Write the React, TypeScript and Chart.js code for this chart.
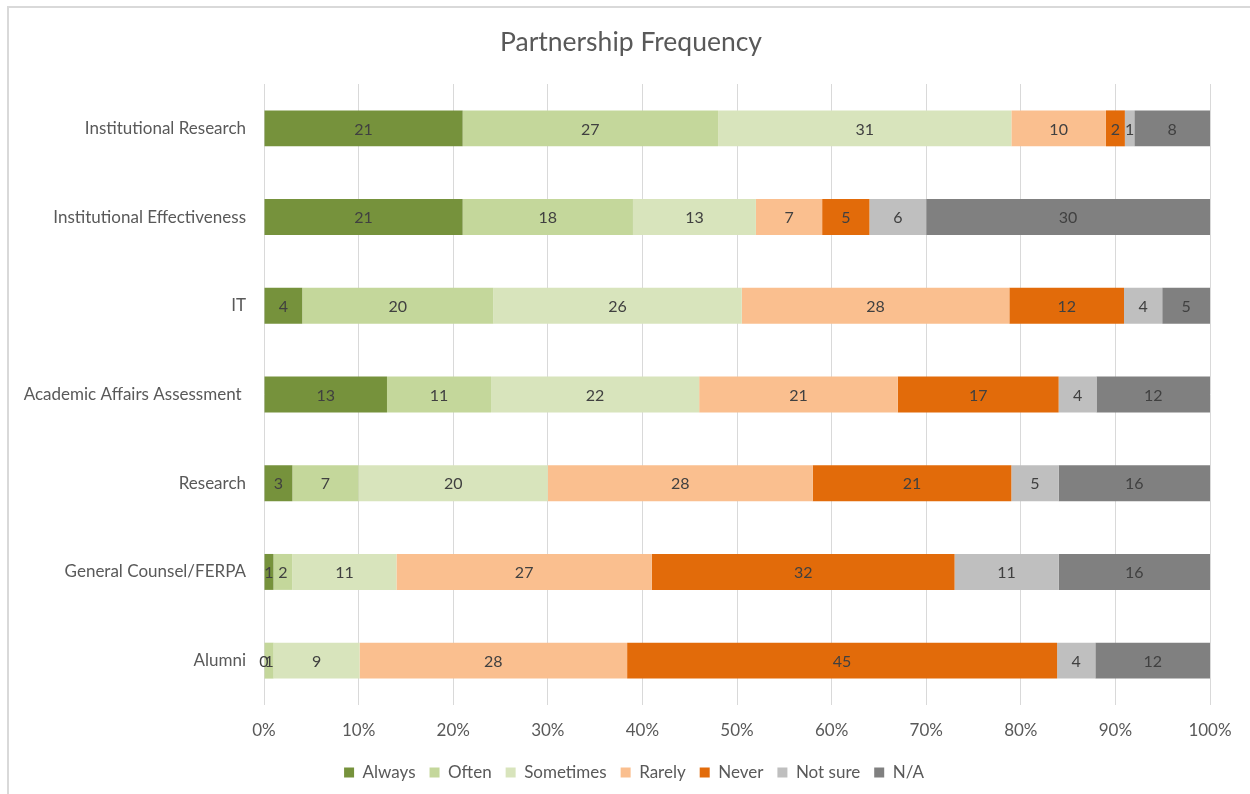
import React, { useEffect, useRef } from "react";
import { Chart, registerables } from "chart.js";

Chart.register(...registerables);

const categories = [
  "Institutional Research",
  "Institutional Effectiveness",
  "IT",
  "Academic Affairs Assessment ",
  "Research",
  "General Counsel/FERPA",
  "Alumni",
];

const seriesNames = ["Always", "Often", "Sometimes", "Rarely", "Never", "Not sure", "N/A"];
const seriesColors = ["#76923c", "#c4d79b", "#d8e4bc", "#fabf8f", "#e26b0a", "#bfbfbf", "#808080"];

const always = [21, 21, 4, 13, 3, 1, 0];
const often = [27, 18, 20, 11, 7, 2, 1];
const sometimes = [31, 13, 26, 22, 20, 11, 9];
const rarely = [10, 7, 28, 21, 28, 27, 28];
const never = [2, 5, 12, 17, 21, 32, 45];
const notSure = [1, 6, 4, 4, 5, 11, 4];
const na = [8, 30, 5, 12, 16, 16, 12];

const xTicks = [0, 10, 20, 30, 40, 50, 60, 70, 80, 90, 100];

const titleText = "Partnership Frequency";

const FONT = "Lato, 'Liberation Sans', sans-serif";

export default function App() {
  const ref = useRef<HTMLCanvasElement | null>(null);

  useEffect(() => {
    const series = [always, often, sometimes, rarely, never, notSure, na];
    const totals = categories.map((_, i) => series.reduce((s, arr) => s + arr[i], 0));

    const labelPlugin = {
      id: "segLabels",
      afterDatasetsDraw(chart: any) {
        const ctx = chart.ctx;
        ctx.save();
        ctx.font = `16px ${FONT}`;
        ctx.fillStyle = "#404040";
        ctx.textAlign = "center";
        ctx.textBaseline = "middle";
        chart.data.datasets.forEach((ds: any, di: number) => {
          const meta = chart.getDatasetMeta(di);
          meta.data.forEach((el: any, i: number) => {
            const raw = ds.raw[i];
            const cx = (el.x + el.base) / 2;
            ctx.fillText(String(raw), cx, el.y + 1);
          });
        });
        ctx.restore();
      },
    };

    const titlePlugin = {
      id: "customTitle",
      afterDraw(chart: any) {
        const ctx = chart.ctx;
        ctx.save();
        ctx.font = `26.5px ${FONT}`;
        ctx.fillStyle = "#595959";
        ctx.textAlign = "center";
        ctx.textBaseline = "middle";
        ctx.fillText(titleText, 631, 42);
        ctx.restore();
      },
    };

    const legendShift = {
      id: "legendShift",
      afterLayout(chart: any) {
        if (chart.legend) {
          chart.legend.left += 24;
          chart.legend.right += 24;
        }
      },
    };

    const chart = new Chart(ref.current as HTMLCanvasElement, {
      type: "bar",
      data: {
        labels: categories,
        datasets: series.map((arr, si) => ({
          label: seriesNames[si],
          data: arr.map((v, i) => (v / totals[i]) * 100),
          raw: arr,
          backgroundColor: seriesColors[si],
          borderWidth: 0,
          barPercentage: 0.405,
          categoryPercentage: 1,
        })) as any,
      },
      options: {
        indexAxis: "y",
        animation: false,
        responsive: false,
        maintainAspectRatio: false,
        layout: { padding: { left: 10, right: 40, top: 84, bottom: 3 } },
        plugins: {
          title: { display: false },
          legend: {
            position: "bottom",
            labels: {
              color: "#595959",
              font: { family: FONT, size: 17 },
              boxWidth: 10,
              boxHeight: 10,
              padding: 14,
            },
          },
          tooltip: { enabled: false },
        },
        scales: {
          x: {
            stacked: true,
            min: 0,
            max: 100,
            afterBuildTicks(scale: any) {
              scale.ticks = xTicks.map((v) => ({ value: v }));
            },
            afterFit(scale: any) {
              scale.height = 45;
            },
            ticks: {
              callback: (v: any) => v + "%",
              color: "#595959",
              font: { family: FONT, size: 17 },
              padding: 15,
              maxRotation: 0,
            },
            grid: { color: "#d9d9d9", drawTicks: false, lineWidth: 1 },
            border: { display: false },
          },
          y: {
            stacked: true,
            afterFit(scale: any) {
              scale.width = 254;
            },
            ticks: {
              color: "#595959",
              font: { family: FONT, size: 17 },
              padding: 18,
            },
            grid: { display: false, drawTicks: false },
            border: { display: false },
          },
        },
      },
      plugins: [labelPlugin, titlePlugin, legendShift],
    });
    return () => chart.destroy();
  }, []);

  return (
    <div style={{ position: "fixed", left: 0, top: 0, width: 1250, height: 794, overflow: "hidden", background: "#fff" }}>
      <div
        style={{
          position: "absolute",
          left: 7,
          top: 6,
          width: 1300,
          height: 900,
          border: "2px solid #d9d9d9",
          boxSizing: "border-box",
        }}
      />
      <canvas ref={ref} width={1250} height={794} style={{ position: "absolute", left: 0, top: 0, width: 1250, height: 794 }} />
    </div>
  );
}
